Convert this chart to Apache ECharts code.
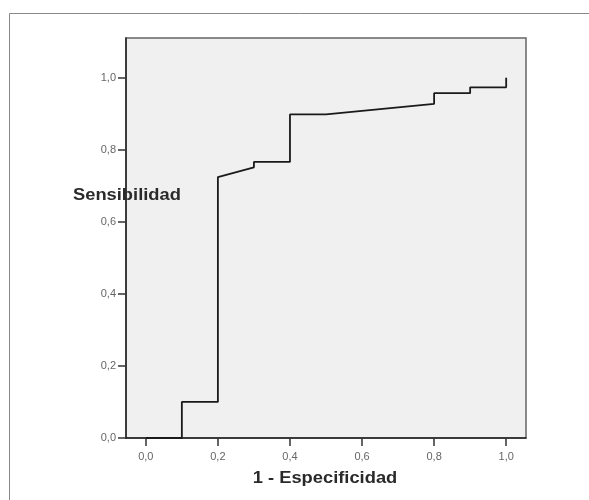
<!DOCTYPE html>
<html>
<head>
<meta charset="utf-8">
<script src="https://cdn.jsdelivr.net/npm/echarts@6/dist/echarts.min.js"></script>
<style>
  html, body { margin: 0; padding: 0; background: #fff; }
  #chart { width: 589px; height: 500px; }
</style>
</head>
<body>
<div id="chart"></div>
<script>
// puntos de la curva ROC (1 - especificidad, sensibilidad)
let rocX = [0, 0.1, 0.1, 0.2, 0.2, 0.3, 0.3, 0.4, 0.4, 0.5, 0.8, 0.8, 0.9, 0.9, 1.0, 1.0];
let rocY = [0, 0, 0.1, 0.1, 0.724, 0.751, 0.766, 0.766, 0.898, 0.898, 0.927, 0.957, 0.957, 0.973, 0.973, 1.0];
let xTicks = [0, 0.2, 0.4, 0.6, 0.8, 1.0];
let yTicks = [0, 0.2, 0.4, 0.6, 0.8, 1.0];
let xTitle = '1 - Especificidad';
let yTitle = 'Sensibilidad';

let fmt = function (v) {
    return v.toFixed(1).replace('.', ',');
};

let rocData = rocX.map(function (x, i) {
    return [x, rocY[i]];
});

let titleFont = 'bold 16.5px "Liberation Sans", Arial, sans-serif';
let labelFont = '"Liberation Sans", Arial, sans-serif';

let myChart = echarts.init(document.getElementById('chart'));
let options = {
    animation: false,
    backgroundColor: '#fff',
    grid: {
        left: 126,
        top: 38,
        width: 400,
        height: 400,
        show: true,
        backgroundColor: '#f0f0f0',
        borderColor: '#666',
        borderWidth: 1.5
    },
    graphic: [
        {
            type: 'rect',
            shape: { x: 9.5, y: 13.5, width: 620, height: 520 },
            style: { fill: 'none', stroke: '#888', lineWidth: 1 }
        },
        {
            // título del eje Y, algo ensanchado como en el original
            type: 'text',
            x: 73,
            y: 195,
            scaleX: 1.11,
            z: 100,
            style: {
                text: yTitle,
                font: titleFont,
                fill: '#2a2a2a',
                align: 'left',
                verticalAlign: 'middle'
            }
        },
        {
            type: 'text',
            x: 325,
            y: 478,
            scaleX: 1.11,
            z: 100,
            style: {
                text: xTitle,
                font: titleFont,
                fill: '#2a2a2a',
                align: 'center',
                verticalAlign: 'middle'
            }
        }
    ],
    xAxis: {
        type: 'value',
        min: -0.055,
        max: 1.055,
        axisLine: { show: true, onZero: false, lineStyle: { color: '#222', width: 1.5 } },
        axisTick: {
            show: true,
            length: 8,
            customValues: xTicks,
            lineStyle: { color: '#333', width: 1.5 }
        },
        axisLabel: {
            customValues: xTicks,
            margin: 13,
            fontSize: 11,
            fontFamily: labelFont,
            color: '#666',
            formatter: fmt
        },
        splitLine: { show: false }
    },
    yAxis: {
        type: 'value',
        min: 0,
        max: 1.11,
        axisLine: { show: true, onZero: false, lineStyle: { color: '#222', width: 1.5 } },
        axisTick: {
            show: true,
            length: 8,
            customValues: yTicks,
            lineStyle: { color: '#333', width: 1.5 }
        },
        axisLabel: {
            customValues: yTicks,
            margin: 10,
            fontSize: 11,
            fontFamily: labelFont,
            color: '#666',
            formatter: fmt
        },
        splitLine: { show: false }
    },
    series: [
        {
            type: 'line',
            data: rocData,
            showSymbol: false,
            symbol: 'none',
            lineStyle: { color: '#1a1a1a', width: 1.8 }
        }
    ]
};
myChart.setOption(options);
</script>
</body>
</html>
